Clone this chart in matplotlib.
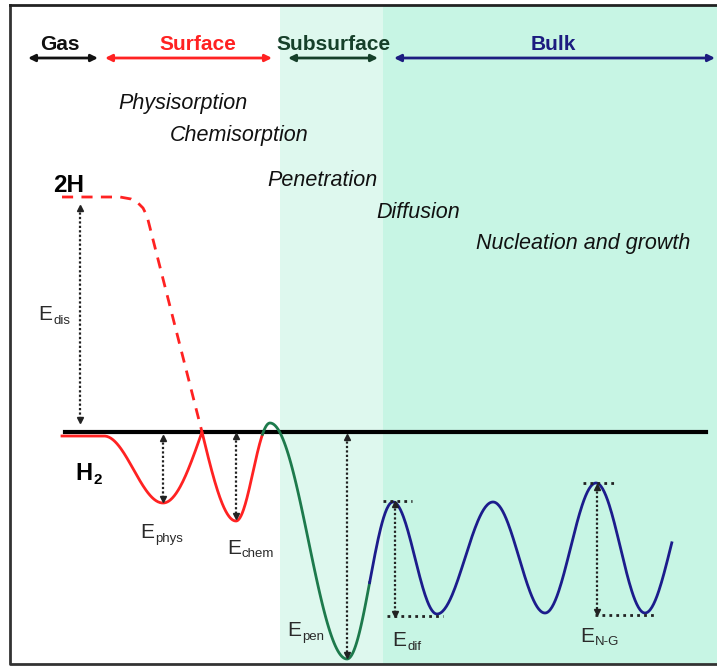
#!/usr/bin/env python3
"""Energy profile of hydrogen: gas -> surface -> subsurface -> bulk (schematic)."""

import numpy as np
import matplotlib.pyplot as plt
from matplotlib.patches import Rectangle

plt.rcParams.update({
    'font.family': ['Liberation Sans', 'DejaVu Sans'],
    'mathtext.default': 'regular',
})

# ---- data (picture pixel coordinates, y grows downward) ----
# extrema of the potential energy curve, and how each segment is eased
curve_x = [62, 104, 163, 202, 236, 270, 347, 393, 437, 493, 545, 596, 645, 696]
curve_y = [436, 436, 503, 432, 521, 423, 659, 502, 614, 502, 613, 483, 613, 483]
curve_ease = ['cos', 'cos', 'in', 'out', 'cos', 'cos', 'cos', 'cos', 'cos',
              'cos', 'cos', 'cos', 'cos']
curve_end = 672
red_to_green = 263
green_to_blue = 370

# dissociation path 2H -> surface (dashed)
diss_x = [62, 120, 131, 138, 143, 147, 202]
diss_y = [197, 197, 199, 203, 208, 216, 432]

zero_level = 432
zero_span = (65, 706)

# regions: label, colour, arrow start, arrow end, label centre x
regions = ['Gas', 'Surface', 'Subsurface', 'Bulk']
region_colors = ['#111111', '#ff2222', '#16402a', '#1c1c80']
region_start = [28, 105, 288, 394]
region_end = [98, 272, 378, 715]
region_label_x = [60, 198, 333, 553]

# processes (italic), left x and centre y
processes = ['Physisorption', 'Chemisorption', 'Penetration', 'Diffusion',
             'Nucleation and growth']
process_x = [118, 170, 267, 376, 476]
process_y = [103, 136, 181, 212, 243]

# energy arrows: x, y top, y bottom
energy_names = ['dis', 'phys', 'chem', 'pen', 'dif', 'N-G']
energy_x = [80, 163, 236, 347, 395, 597]
energy_top = [208, 438, 436, 437, 504, 487]
energy_bot = [420, 499, 516, 655, 614, 612]
energy_label_x = [38, 140, 227, 287, 392, 580]
energy_label_y = [315, 533, 548, 631, 641, 636]

# dotted guide lines for E_dif and E_N-G: x0, x1, y
guide_x0 = [383, 387, 583, 595]
guide_x1 = [412, 443, 616, 655]
guide_y = [501, 616, 483, 615]


def eased_curve(xs, ys, kinds, n=60):
    """Join extrema with eased segments (smooth or cusp ends)."""
    px, py = [], []
    for i in range(len(xs) - 1):
        t = np.linspace(0, 1, n)
        if kinds[i] == 'in':
            w = 1 - np.cos(np.pi * t / 2)
        elif kinds[i] == 'out':
            w = np.sin(np.pi * t / 2)
        else:
            w = (1 - np.cos(np.pi * t)) / 2
        px.extend(xs[i] + (xs[i + 1] - xs[i]) * t)
        py.extend(ys[i] + (ys[i + 1] - ys[i]) * w)
    return np.array(px), np.array(py)


fig = plt.figure(figsize=(7.17, 6.69), dpi=100)
ax = fig.add_axes([0, 0, 1, 1])
ax.set_xlim(0, 717)
ax.set_ylim(669, 0)
ax.axis('off')

# backgrounds
ax.add_patch(Rectangle((280, 5), 103, 659, color='#def8ee', zorder=0, lw=0))
ax.add_patch(Rectangle((383, 5), 340, 659, color='#c7f5e4', zorder=0, lw=0))
ax.plot([10, 10, 720], [5, 664, 664], color='#333333', lw=2, zorder=1)
ax.plot([10, 720], [5, 5], color='#222222', lw=2, zorder=1)

# region headers
for name, c, x0, x1, lx in zip(regions, region_colors, region_start,
                               region_end, region_label_x):
    ax.text(lx, 44, name, color=c, fontsize=15, fontweight='bold',
            ha='center', va='center')
    ax.annotate('', xy=(x1, 58), xytext=(x0, 58),
                arrowprops=dict(arrowstyle='<|-|>', color=c, lw=2,
                                mutation_scale=10, shrinkA=0, shrinkB=0))

for name, x, y in zip(processes, process_x, process_y):
    ax.text(x, y, name, fontsize=15.5, style='italic', ha='left', va='center',
            color='#111111')

# zero level and dissociation path
ax.plot(zero_span, [zero_level, zero_level], color='black', lw=3, zorder=3)
ax.plot(diss_x, diss_y, color='#ff2222', lw=2, ls=(0, (4, 3)), zorder=4)

# energy curve coloured by region
cx, cy = eased_curve(curve_x, curve_y, curve_ease)
keep = cx <= curve_end
cx, cy = cx[keep], cy[keep]
m_red = cx <= red_to_green
m_green = (cx >= red_to_green - 1) & (cx <= green_to_blue)
m_blue = cx >= green_to_blue - 1
ax.plot(cx[m_red], cy[m_red], color='#ff2222', lw=2, zorder=4)
ax.plot(cx[m_green], cy[m_green], color='#1d7a4c', lw=2, zorder=4)
ax.plot(cx[m_blue], cy[m_blue], color='#1c1c8c', lw=2, zorder=4)

# energy arrows
for name, x, yt, yb, lx, ly in zip(energy_names, energy_x, energy_top,
                                   energy_bot, energy_label_x, energy_label_y):
    ax.plot([x, x], [yt, yb], color='#222222', lw=1.6, ls=(0, (1, 1)), zorder=5)
    ax.plot([x], [yt], marker='^', ms=4, color='#222222', zorder=5)
    ax.plot([x], [yb], marker='v', ms=4, color='#222222', zorder=5)
    ax.text(lx, ly, 'E', fontsize=15, ha='left', va='center', color='#2a2a2a')
    ax.text(lx + 15, ly + 6, name, fontsize=9.5, ha='left', va='center',
            color='#2a2a2a')

for x0, x1, y in zip(guide_x0, guide_x1, guide_y):
    ax.plot([x0, x1], [y, y], color='#222222', lw=2, ls=(0, (1, 1.5)), zorder=5)

ax.text(53, 185, '2H', fontsize=17.5, fontweight='bold', ha='left', va='center')
ax.text(75, 473, 'H', fontsize=17, fontweight='bold', ha='left', va='center')
ax.text(93, 480, '2', fontsize=11, fontweight='bold', ha='left', va='center')

fig.savefig('out.png', dpi=100)
